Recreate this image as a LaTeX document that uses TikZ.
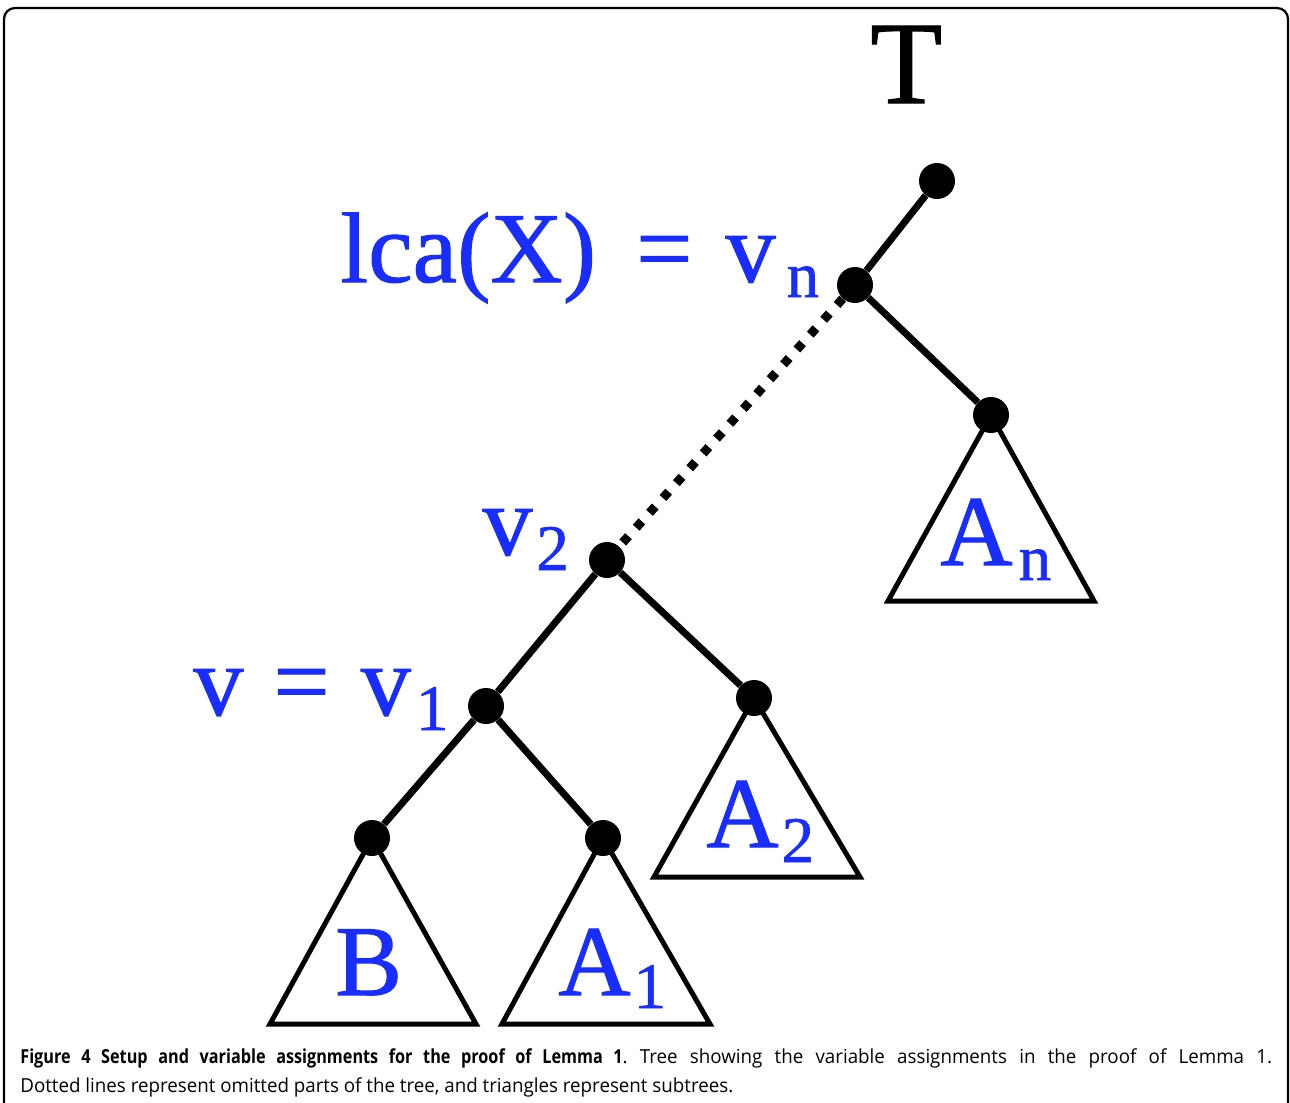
\documentclass[tikz,border=0pt]{standalone}
\usepackage{fontspec}
\setmainfont{Liberation Serif}
\newfontfamily\lblfont[FakeBold=1]{Liberation Serif}
\newfontfamily\capfont[FakeStretch=0.97]{Open Sans}
\newfontfamily\capbold[FakeStretch=0.84]{Open Sans}
\definecolor{lblue}{RGB}{25,45,255}
\newcommand{\sbs}[2][0.3cm]{\raisebox{-#1}{\fontsize{37}{37}\selectfont #2}}
\begin{document}
\begin{tikzpicture}[x=0.02cm,y=-0.02cm,
  dot/.style={circle,fill=black,inner sep=0,minimum size=0.72cm},
  edge/.style={line width=0.14cm},
  omit/.style={line width=0.18cm,dash pattern=on 0.17cm off 0.23cm},
  subtree/.style={line width=0.1cm,line join=miter},
  lbl/.style={text=lblue,inner sep=0,anchor=base west,font=\lblfont\fontsize{57}{57}\selectfont},
]
\useasboundingbox (0,0) rectangle (1290,1102);
\clip (0,0) rectangle (1290,1102);
\draw[line width=0.045cm,rounded corners=0.22cm] (4,8) rectangle (1288,1140);

% tree nodes
\node[dot] (root) at (937,181) {};
\node[dot] (vn) at (855,285) {};
\node[dot] (an) at (991,415) {};
\node[dot] (v2) at (607,560) {};
\node[dot] (a2) at (754,698) {};
\node[dot] (v1) at (486,706) {};
\node[dot] (b) at (372,838) {};
\node[dot] (a1) at (603,838) {};

% subtrees
\draw[subtree] (an.center) -- (888,601) -- (1094,601) -- cycle;
\draw[subtree] (a2.center) -- (654,877) -- (860,877) -- cycle;
\draw[subtree] (b.center) -- (270,1024) -- (476,1024) -- cycle;
\draw[subtree] (a1.center) -- (502,1024) -- (710,1024) -- cycle;

% edges
\draw[edge] (root) -- (vn);
\draw[edge] (vn) -- (an);
\draw[omit] (vn) -- (v2);
\draw[edge] (v2) -- (v1);
\draw[edge] (v2) -- (a2);
\draw[edge] (v1) -- (b);
\draw[edge] (v1) -- (a1);

% labels
\node[inner sep=0,anchor=base west,font=\lblfont\fontsize{67}{67}\selectfont] (t) at (870,103) {T};
\node[lbl] (llca) at (340,282) {lca(X)\hspace{0.8cm}=\hspace{0.66cm}v\hspace{0.22cm}\sbs{n}};
\node[lbl] (lv2) at (482,555) {v\hspace{0.08cm}\sbs{2}};
\node[lbl] (lv1) at (193,715) {v\hspace{0.6cm}=\hspace{0.62cm}v\hspace{0.1cm}\sbs{1}};
\node[lbl] (lb) at (335,995) {B};
\node[lbl] (la1) at (558,995) {A\hspace{0.06cm}\sbs[0.26cm]{1}};
\node[lbl] (la2) at (706,847) {A\hspace{0.06cm}\sbs{2}};
\node[lbl] (lan) at (940,565) {A\hspace{0.12cm}\sbs{n}};

% caption
\node[inner sep=0,anchor=base west,font=\capfont\fontsize{11}{16.5}\selectfont] (cap) at (20,1063)
 {\parbox[t]{25.04cm}{\frenchspacing{\capbold\bfseries Figure 4 Setup and variable assignments for the proof of Lemma 1}. Tree showing the variable assignments in the proof of Lemma 1.\linebreak Dotted lines represent omitted parts of the tree, and triangles represent subtrees.}};
\end{tikzpicture}
\end{document}
